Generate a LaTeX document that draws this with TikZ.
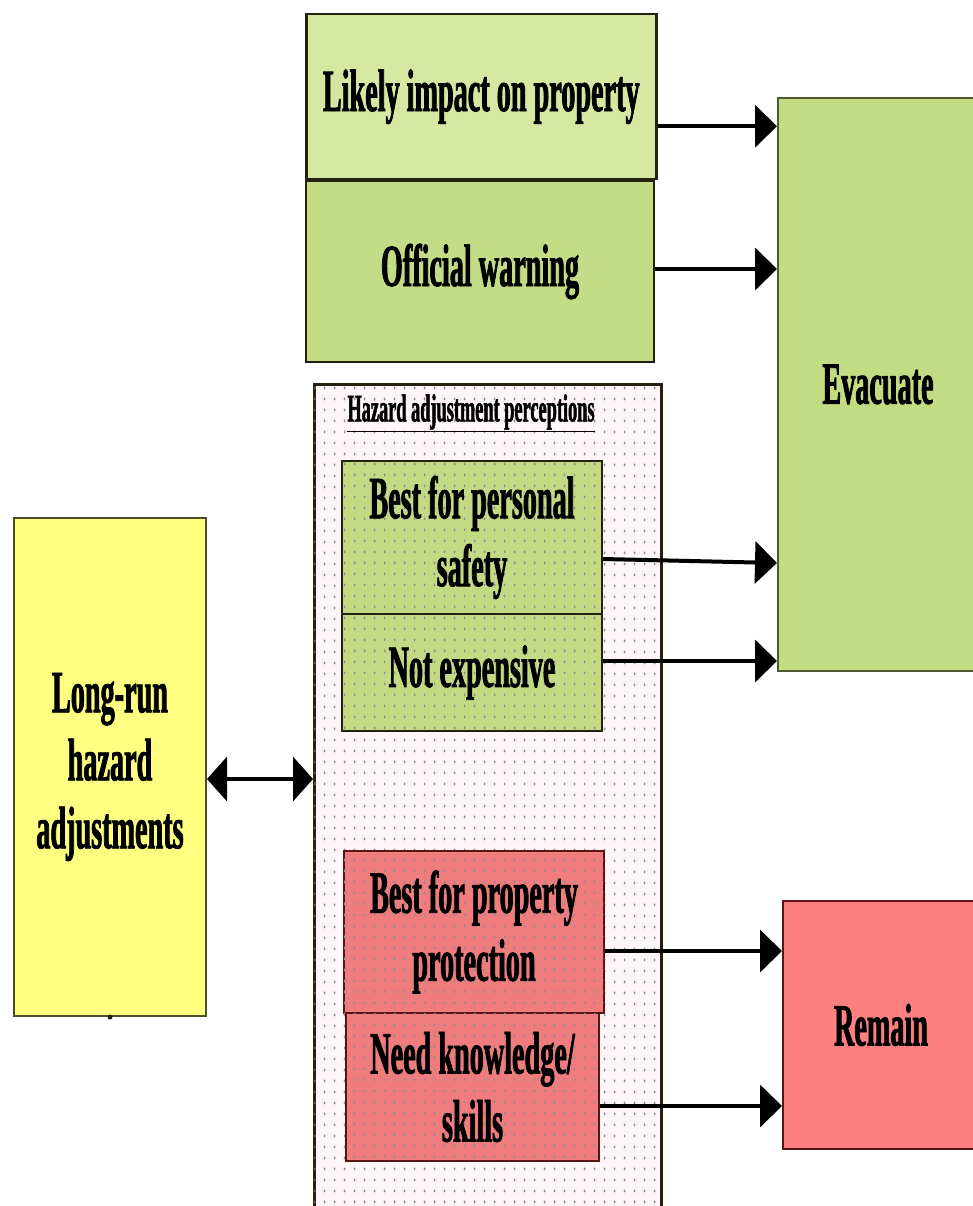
\documentclass[tikz,border=0pt]{standalone}
\usepackage{fontspec}
\newfontfamily\cnd[FakeStretch=0.47,FakeBold=1.2]{Liberation Serif}
\usetikzlibrary{arrows.meta,patterns.meta}

\definecolor{greenA}{HTML}{D5E7A0}
\definecolor{greenB}{HTML}{C4DC86}
\definecolor{greenC}{HTML}{C3DB82}
\definecolor{greenIn}{HTML}{C4D983}
\definecolor{redIn}{HTML}{EF7D7D}
\definecolor{redOut}{HTML}{FD8080}
\definecolor{yel}{HTML}{FEFE80}
\definecolor{panel}{HTML}{FDF5F7}
\definecolor{dotc}{HTML}{8E8C98}
\definecolor{edge}{HTML}{22220F}
\definecolor{redEdge}{HTML}{5A1414}

% small upright dot used as the stipple of the perception panel
\tikzdeclarepattern{
  name=stipple,
  type=uncolored,
  bounding box={(0pt,0pt) and (10pt,11pt)},
  tile size={(10pt,11pt)},
  code={\fill (5pt,5.5pt) ellipse [x radius=1.1pt, y radius=1.7pt];}
}

\begin{document}
\begin{tikzpicture}[x=1pt,y=-1pt,
  lbl/.style={font=\cnd\bfseries\fontsize{60}{68}\selectfont, align=center},
  box/.style={lbl, draw=edge, line width=2pt, inner sep=0pt, anchor=north west},
  dotted fill/.style={postaction={pattern=stipple, pattern color=dotc}},
  arr/.style={line width=4pt, -{Triangle[length=22pt,width=42pt]}},
  twoway/.style={line width=4pt, {Triangle[length=20pt,width=44pt]}-{Triangle[length=20pt,width=44pt]}},
]
\useasboundingbox (0,0) rectangle (972,1206);
\fill[white] (0,0) rectangle (972,1206);

% upper cue boxes
\node[box, fill=greenA, line width=2.5pt, minimum width=350pt, minimum height=165pt] (likely) at (305,13) {Likely impact on property};
\node[box, fill=greenB, minimum width=348pt, minimum height=181pt] (official) at (305,180) {Official warning};

% perception panel
\node[box, fill=panel, dotted fill, line width=2.5pt, minimum width=347pt, minimum height=840pt] (panel) at (313,383) {};
\node[font=\cnd\bfseries\fontsize{39}{44}\selectfont] (title) at (471,413) {\underline{Hazard adjustment perceptions}};

\node[box, fill=greenIn, dotted fill, minimum width=260pt, minimum height=153pt] (personal) at (341,460) {Best for personal\\safety};
\node[box, fill=greenIn, dotted fill, minimum width=260pt, minimum height=117pt] (cheap) at (341,613) {Not expensive};
\node[box, draw=redEdge, fill=redIn, dotted fill, minimum width=260pt, minimum height=162pt] (property) at (343,850) {Best for property\\protection};
\node[box, draw=redEdge, fill=redIn, dotted fill, minimum width=253pt, minimum height=148pt] (skills) at (345,1012) {Need knowledge/\\skills};

% long-run adjustments
\node[box, draw=edge!80!yel, fill=yel, minimum width=192pt, minimum height=498pt] (longrun) at (13,517) {Long-run\\hazard\\adjustments};
\fill[edge] (longrun.south) circle (2.5pt);

% outcomes
\node[box, draw=edge!70!greenC, fill=greenC, minimum width=200pt, minimum height=573pt] (evac) at (777,97) {Evacuate};
\node[box, draw=redEdge, fill=redOut, minimum width=196pt, minimum height=248pt] (remain) at (782,900) {Remain};

% connectors
\draw[arr] ([yshift=-29.5pt]likely.east) -- ([yshift=-29.5pt]likely.east -| evac.west);
\draw[arr] ([yshift=2.5pt]official.east) -- ([yshift=2.5pt]official.east -| evac.west);
\draw[arr] ([yshift=-21.5pt]personal.east) -- ([yshift=-25.5pt]personal.east -| evac.west);
\draw[arr] ([yshift=11.5pt]cheap.east) -- ([yshift=11.5pt]cheap.east -| evac.west);
\draw[arr] ([yshift=-19pt]property.east) -- ([yshift=-19pt]property.east -| remain.west);
\draw[arr] ([yshift=-19pt]skills.east) -- ([yshift=-19pt]skills.east -| remain.west);
\draw[twoway] ([yshift=-12pt]longrun.east) -- ([yshift=-12pt]longrun.east -| panel.west);
\end{tikzpicture}
\end{document}
